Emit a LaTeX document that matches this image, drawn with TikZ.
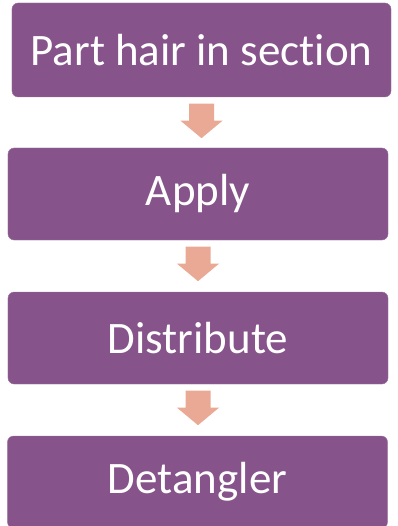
\documentclass[tikz,border=0pt]{standalone}
\usepackage{fontspec}
\setmainfont[Ligatures=NoCommon]{Carlito}
\usetikzlibrary{calc}
\definecolor{boxpurple}{RGB}{134,83,138}
\definecolor{arrowpink}{RGB}{234,169,148}
\tikzset{
	stepbox/.style={fill=boxpurple, draw=boxpurple!80!white, rounded corners=6bp,
		minimum width=380bp, minimum height=92bp, text=white, inner sep=0pt,
		font=\fontsize{45bp}{54bp}\selectfont},
}
% block arrow under a box
\newcommand{\flowarrow}[1]{
	\fill[arrowpink] ($(#1.south)+(-12.5,6.5)$) -- ++(25,0) -- ++(0,17) -- ++(8.5,0)
		-- ($(#1.south)+(0,41)$) -- ($(#1.south)+(-21,23.5)$) -- ++(8.5,0) -- cycle;
}
\begin{document}
\begin{tikzpicture}[x=1bp, y=-1bp]
	\useasboundingbox (0, 0) rectangle (397, 526);
	\node[stepbox, minimum width=379bp, minimum height=94bp] (part) at (201.5, 50) {Part hair in section};
	\node[stepbox] (apply) at (198, 194) {Apply};
	\node[stepbox] (distribute) at (198, 338) {Distribute};
	\node[stepbox] (detangler) at (197.5, 482) {Detangler};
	\flowarrow{part}
	\flowarrow{apply}
	\flowarrow{distribute}
\end{tikzpicture}
\end{document}
